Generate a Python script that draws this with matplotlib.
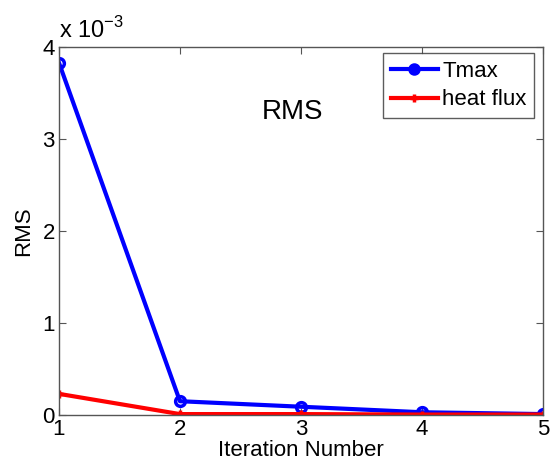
import matplotlib
matplotlib.use("Agg")
import matplotlib.pyplot as plt
from matplotlib.lines import Line2D

plt.rcParams['font.family'] = ['Liberation Sans', 'DejaVu Sans']

iterations = [1, 2, 3, 4, 5]
tmax_rms = [3.83, 0.15, 0.09, 0.03, 0.01]       # x 1e-3
heat_flux_rms = [0.23, 0.01, 0.01, 0.005, 0.005]  # x 1e-3
series_labels = ['Tmax', 'heat flux']

fig = plt.figure(figsize=(5.56, 4.73), dpi=100)
ax = fig.add_axes([0.106, 0.1226, 0.8705, 0.778])

ax.plot(iterations, tmax_rms, color='blue', lw=3, marker='o', ms=7,
        mfc='none', mew=2.5)
ax.plot(iterations, heat_flux_rms, color='red', lw=3, marker='+', ms=6,
        mew=2.5)

ax.set_xlim(1, 5)
ax.set_ylim(0, 4)
ax.set_xticks([1, 2, 3, 4, 5])
ax.set_yticks([0, 1, 2, 3, 4])
ax.tick_params(direction='in', top=True, right=True, labelsize=16, length=5,
               color='#555555', pad=3)
for s in ax.spines.values():
    s.set_color('#555555')
    s.set_linewidth(1)

ax.set_xlabel('Iteration Number', fontsize=16, labelpad=0)
ax.set_ylabel('RMS', fontsize=16, labelpad=6)
ax.text(0.0, 1.012, r'x 10$^{\mathregular{-3}}$', transform=ax.transAxes,
        fontsize=17, ha='left', va='bottom')
ax.text(2.93, 3.29, 'RMS', fontsize=20, ha='center', va='center')

handles = [
    Line2D([], [], color='blue', lw=3, marker='o', ms=7, mfc='blue', mew=2),
    Line2D([], [], color='red', lw=3, marker='+', ms=6, mew=2.5),
]
leg = ax.legend(handles, series_labels, loc='upper right', fontsize=16,
                frameon=True, fancybox=False, edgecolor='#333333',
                handlelength=2.1, borderpad=0.35, labelspacing=0.35,
                handletextpad=0.2, borderaxespad=0.0,
                bbox_to_anchor=(0.982, 0.984))
leg.get_frame().set_linewidth(1)

fig.savefig('out.png', dpi=100)
